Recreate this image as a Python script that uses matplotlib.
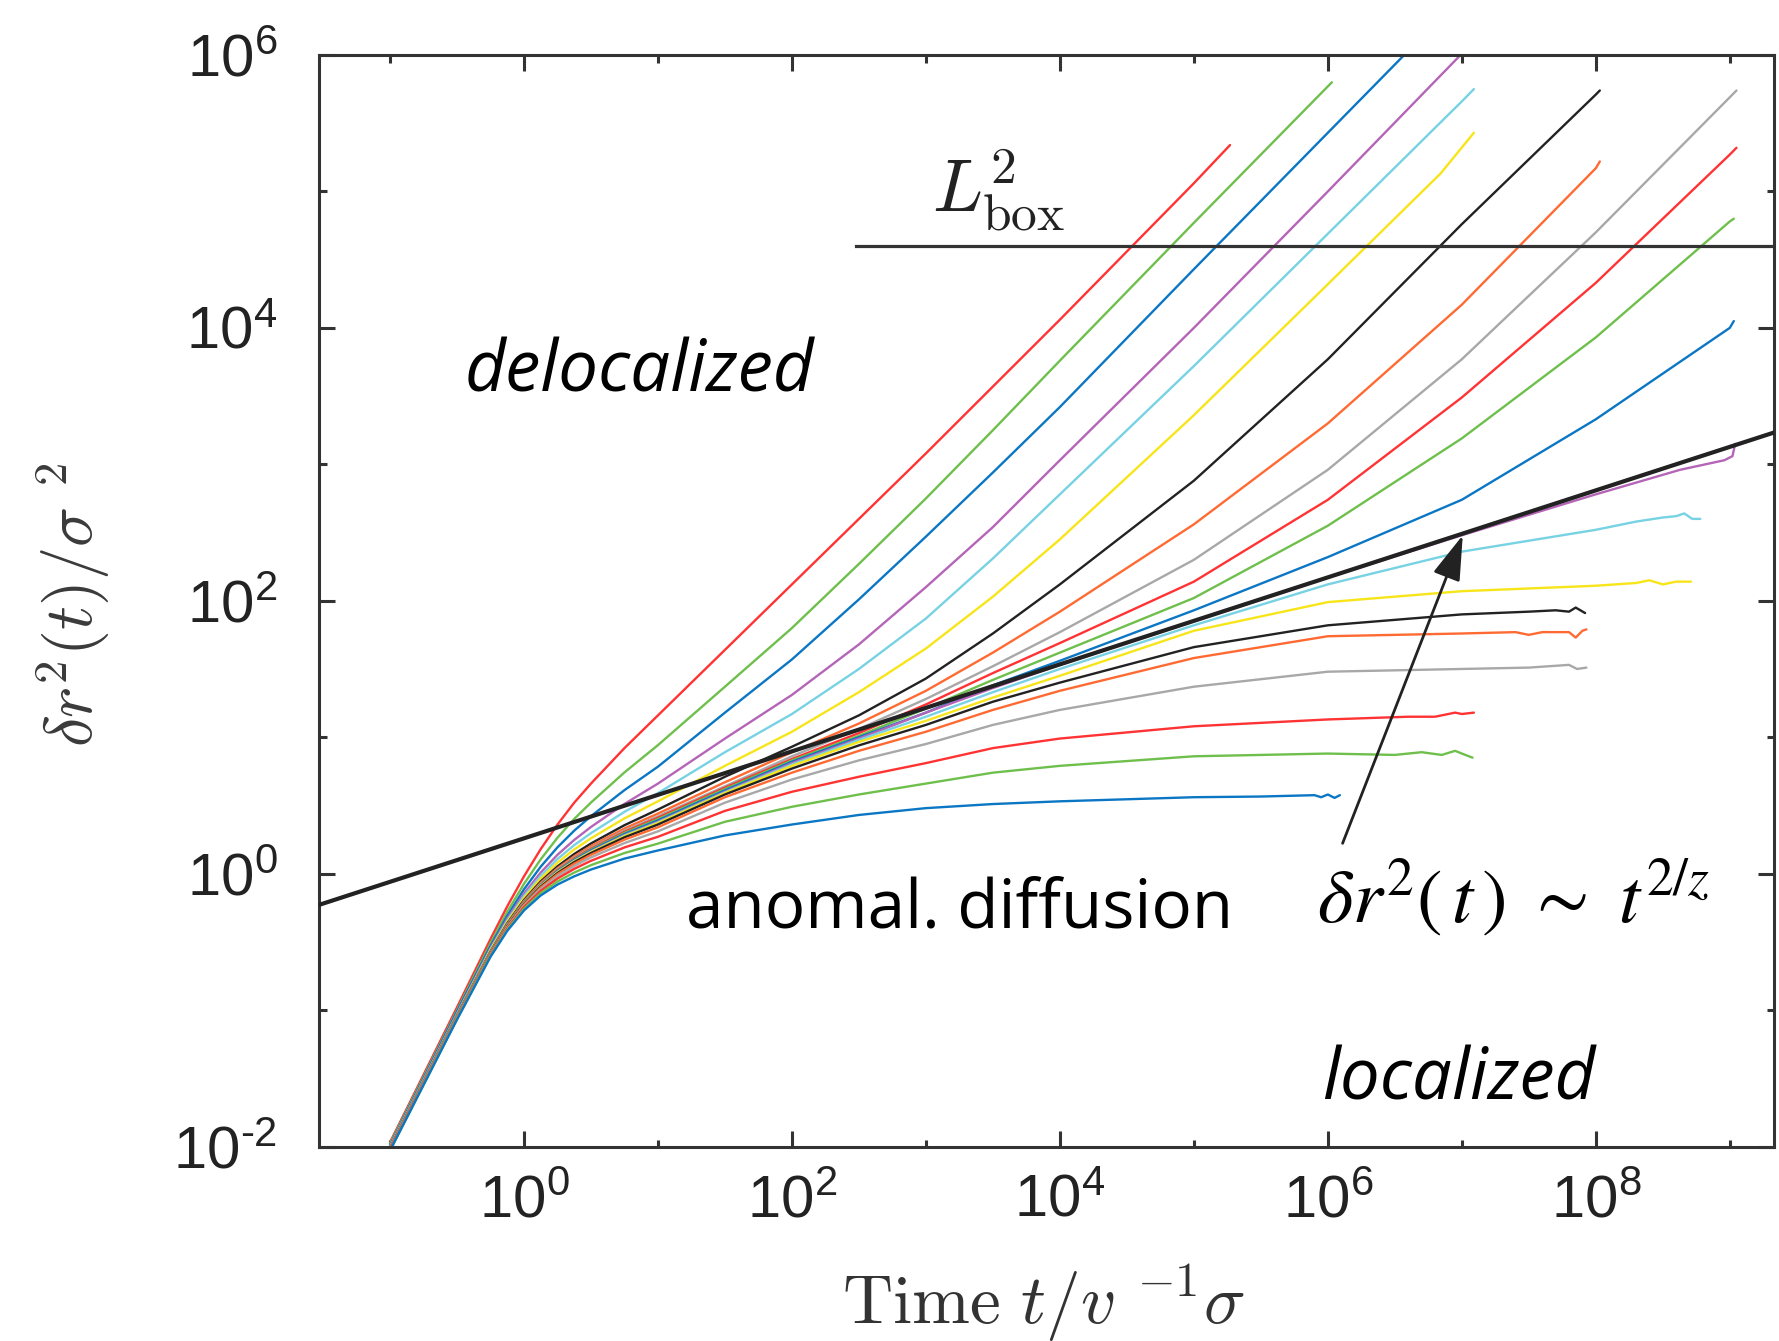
import numpy as np
import matplotlib
matplotlib.use("Agg")
import matplotlib.pyplot as plt
from matplotlib.ticker import FixedLocator, FixedFormatter, NullFormatter

# ─── Style ────────────────────────────────────────────────────────────────────
plt.rcParams.update({
    "mathtext.fontset": "custom",
    "mathtext.rm": "Liberation Sans",
    "mathtext.it": "Liberation Sans:italic",
    "mathtext.bf": "Liberation Sans:bold",
    "font.family": "Liberation Sans",
})

INK = "#222222"
SPINE = "#333333"

# one colour per curve, from most delocalized (top) to most localized (bottom)
CURVE_COLORS = [
    "#ff3333", "#6fbf4c", "#0b77c4", "#b565b8", "#77d2e3", "#f7e51a", "#222222", "#ff6a33", "#a8a8a8",
    "#ff3333", "#6fbf4c", "#0b77c4", "#b565b8", "#77d2e3", "#f7e51a", "#222222", "#ff6a33", "#a8a8a8",
    "#ff3333", "#6fbf4c", "#0b77c4",
]

# ─── Data (log10 of t and of the mean squared displacement) ──────────────────
LOG_T = [-1.0, -0.5, -0.25, -0.125, 0.0, 0.125, 0.25, 0.375, 0.5, 0.75, 1.0,
         1.5, 2.0, 2.5, 3.0, 3.5, 4.0, 5.0, 6.0, 7.0, 8.0, 9.0]

LOG_MSD = [
    [-1.97, -0.98, -0.48, -0.24, -0.02, 0.18, 0.36, 0.52, 0.66, 0.92, 1.16,
     1.64, 2.12, 2.60, 3.08, 3.57, 4.06, 5.06],
    [-1.98, -1.00, -0.51, -0.28, -0.075, 0.105, 0.263, 0.401, 0.521, 0.742, 0.942,
     1.37, 1.80, 2.27, 2.75, 3.25, 3.76, 4.77, 5.77],
    [-1.99, -1.01, -0.53, -0.31, -0.115, 0.051, 0.193, 0.315, 0.421, 0.612, 0.784,
     1.18, 1.57, 2.01, 2.47, 2.94, 3.42, 4.43, 5.43, 6.43],
    [-2.00, -1.025, -0.546, -0.331, -0.146, 0.008, 0.138, 0.247, 0.342, 0.511, 0.66,
     0.99, 1.31, 1.68, 2.10, 2.54, 3.03, 4.00, 5.00, 6.01],
    [-2.00, -1.03, -0.555, -0.344, -0.164, -0.016, 0.107, 0.209, 0.297, 0.453, 0.59,
     0.89, 1.17, 1.50, 1.87, 2.31, 2.78, 3.72, 4.69, 5.66],
    [-2.01, -1.04, -0.563, -0.354, -0.179, -0.036, 0.08, 0.177, 0.259, 0.405, 0.53,
     0.79, 1.04, 1.33, 1.65, 2.03, 2.45, 3.36, 4.32],
    [-2.01, -1.04, -0.571, -0.365, -0.194, -0.057, 0.053, 0.144, 0.221, 0.355, 0.47,
     0.71, 0.93, 1.16, 1.43, 1.76, 2.12, 2.88, 3.77, 4.76, 5.71],
    [-2.01, -1.045, -0.575, -0.371, -0.202, -0.067, 0.04, 0.127, 0.202, 0.331, 0.44,
     0.67, 0.89, 1.10, 1.34, 1.62, 1.92, 2.56, 3.30, 4.17, 5.17],
    [-2.02, -1.047, -0.577, -0.374, -0.207, -0.074, 0.031, 0.117, 0.189, 0.315, 0.42,
     0.64, 0.86, 1.06, 1.28, 1.52, 1.77, 2.30, 2.96, 3.77, 4.70, 5.69],
    [-2.02, -1.048, -0.579, -0.376, -0.21, -0.078, 0.026, 0.111, 0.182, 0.306, 0.41,
     0.63, 0.84, 1.03, 1.24, 1.47, 1.69, 2.14, 2.74, 3.49, 4.33, 5.27],
    [-2.02, -1.049, -0.58, -0.378, -0.212, -0.081, 0.022, 0.105, 0.176, 0.298, 0.40,
     0.62, 0.83, 1.01, 1.21, 1.42, 1.62, 2.02, 2.55, 3.19, 3.93, 4.78],
    [-2.02, -1.05, -0.581, -0.38, -0.215, -0.085, 0.018, 0.10, 0.17, 0.29, 0.39,
     0.61, 0.82, 1.00, 1.18, 1.38, 1.56, 1.93, 2.32, 2.74, 3.33, 4.00],
    [-2.02, -1.051, -0.582, -0.382, -0.217, -0.088, 0.013, 0.094, 0.164, 0.282, 0.38,
     0.60, 0.81, 0.99, 1.18, 1.36, 1.53, 1.85, 2.17, 2.48, 2.78],
    [-2.02, -1.051, -0.583, -0.383, -0.218, -0.09, 0.011, 0.092, 0.16, 0.278, 0.375,
     0.595, 0.80, 0.98, 1.15, 1.33, 1.50, 1.82, 2.12, 2.36, 2.52],
    [-2.02, -1.052, -0.584, -0.384, -0.22, -0.091, 0.009, 0.089, 0.157, 0.274, 0.37,
     0.59, 0.79, 0.965, 1.12, 1.29, 1.45, 1.78, 1.99, 2.07, 2.11],
    [-2.02, -1.053, -0.585, -0.385, -0.222, -0.095, 0.004, 0.084, 0.151, 0.266, 0.36,
     0.58, 0.77, 0.94, 1.09, 1.26, 1.40, 1.66, 1.82, 1.90],
    [-2.02, -1.055, -0.588, -0.389, -0.227, -0.102, -0.004, 0.073, 0.138, 0.249, 0.34,
     0.56, 0.74, 0.90, 1.04, 1.20, 1.34, 1.58, 1.74, 1.76],
    [-2.02, -1.057, -0.592, -0.395, -0.235, -0.112, -0.018, 0.056, 0.119, 0.224, 0.31,
     0.52, 0.69, 0.83, 0.95, 1.09, 1.20, 1.37, 1.48, 1.50],
    [-2.02, -1.061, -0.597, -0.402, -0.245, -0.126, -0.036, 0.035, 0.094, 0.192, 0.27,
     0.46, 0.60, 0.71, 0.81, 0.92, 0.99, 1.08, 1.13],
    [-2.03, -1.065, -0.603, -0.411, -0.257, -0.143, -0.058, 0.008, 0.062, 0.151, 0.22,
     0.38, 0.49, 0.58, 0.66, 0.74, 0.79, 0.86, 0.88],
    [-2.03, -1.07, -0.61, -0.42, -0.27, -0.16, -0.08, -0.02, 0.03, 0.11, 0.17,
     0.28, 0.36, 0.43, 0.48, 0.51, 0.53, 0.56],
]

# last samples of each run past the shared time grid (the noisy ends of the long runs)
TAIL_LOG_T = [
    [5.27], [6.03], [], [], [7.09], [6.84, 7.09], [8.03], [8.03], [9.05], [9.05], [9.03], [9.03],
    [8.63, 8.96, 9.02, 9.04],
    [8.30, 8.50, 8.60, 8.66, 8.72, 8.78],
    [8.30, 8.40, 8.50, 8.60, 8.71],
    [7.50, 7.70, 7.80, 7.85, 7.92],
    [7.40, 7.50, 7.60, 7.80, 7.85, 7.90, 7.93],
    [7.50, 7.80, 7.86, 7.93],
    [6.60, 6.80, 6.95, 7.00, 7.09],
    [6.50, 6.70, 6.85, 6.95, 7.00, 7.08],
    [5.50, 5.90, 5.95, 6.00, 6.05, 6.09],
]
TAIL_LOG_MSD = [
    [5.34], [5.80], [], [], [5.75], [5.13, 5.43], [5.74], [5.22], [5.74], [5.32], [4.80], [4.05],
    [2.96, 3.03, 3.06, 3.15],
    [2.58, 2.61, 2.62, 2.64, 2.60, 2.60],
    [2.13, 2.15, 2.12, 2.14, 2.14],
    [1.92, 1.93, 1.92, 1.95, 1.91],
    [1.77, 1.75, 1.77, 1.77, 1.73, 1.78, 1.79],
    [1.51, 1.53, 1.50, 1.51],
    [1.15, 1.15, 1.18, 1.17, 1.18],
    [0.87, 0.89, 0.87, 0.90, 0.88, 0.85],
    [0.565, 0.575, 0.56, 0.58, 0.555, 0.575],
]

# anomalous diffusion guide line and box size
POWER_T = [10 ** -1.53, 10 ** 9.33]
POWER_MSD = [0.59, 1710.0]
LBOX_T = [300.0, 10 ** 9.33]
LBOX_MSD = [4.0e4, 4.0e4]

X_LIM = (10 ** -1.53, 10 ** 9.33)
Y_LIM = (1e-2, 1e6)
X_MAJOR = [1e0, 1e2, 1e4, 1e6, 1e8]
X_MINOR = [1e-1, 1e1, 1e3, 1e5, 1e7, 1e9]
X_LABELS = ["0", "2", "4", "6", "8"]
Y_MAJOR = [1e-2, 1e0, 1e2, 1e4, 1e6]
Y_MINOR = [1e-1, 1e1, 1e3, 1e5]
Y_LABELS = ["\u20102", "0", "2", "4", "6"]

ARROW_TIP = (10 ** 7.007, 10 ** 2.48)
ARROW_TAIL = (10 ** 6.11, 10 ** 0.222)

W, H = 1779, 1341
fig = plt.figure(figsize=(W / 100, H / 100), dpi=100)
ax = fig.add_axes([319 / W, 1 - 1146.5 / H, (1774 - 319) / W, (1146.5 - 55) / H])

for row, tt, tm, color in zip(LOG_MSD, TAIL_LOG_T, TAIL_LOG_MSD, CURVE_COLORS):
    lt = np.array(LOG_T[:len(row)] + tt)
    lm = np.array(row + tm)
    ax.plot(10 ** lt, 10 ** lm, color=color, lw=1.7, solid_capstyle="round",
            solid_joinstyle="round", zorder=2)

ax.plot(POWER_T, POWER_MSD, color=INK, lw=3.0, zorder=3)
ax.plot(LBOX_T, LBOX_MSD, color=SPINE, lw=2.3, zorder=3)

ax.annotate("", xy=ARROW_TIP, xytext=ARROW_TAIL,
            arrowprops=dict(arrowstyle="-|>,head_length=0.8,head_width=0.25",
                            mutation_scale=35, lw=2.0, color=INK, shrinkA=0, shrinkB=0),
            zorder=4)

ax.set_xscale("log")
ax.set_yscale("log")
ax.set_xlim(*X_LIM)
ax.set_ylim(*Y_LIM)

ax.xaxis.set_major_locator(FixedLocator(X_MAJOR))
ax.xaxis.set_minor_locator(FixedLocator(X_MINOR))
ax.xaxis.set_major_formatter(FixedFormatter([rf"$\mathregular{{10^{{{s}}}}}$" for s in X_LABELS]))
ax.xaxis.set_minor_formatter(NullFormatter())
ax.yaxis.set_major_locator(FixedLocator(Y_MAJOR))
ax.yaxis.set_minor_locator(FixedLocator(Y_MINOR))
ax.yaxis.set_major_formatter(FixedFormatter([rf"$\mathregular{{10^{{{s}}}}}$" for s in Y_LABELS]))
ax.yaxis.set_minor_formatter(NullFormatter())

ax.tick_params(which="both", direction="in", top=True, right=True, width=2.2, color=SPINE,
               labelsize=43, labelcolor=INK)
ax.tick_params(which="major", length=11.5)
ax.tick_params(which="minor", length=5.4)
ax.tick_params(axis="x", which="major", pad=20)
ax.tick_params(axis="y", which="major", pad=30)
for s in ax.spines.values():
    s.set_color(SPINE)
    s.set_linewidth(2.2)

# axis labels
fig.text(1044 / W, 1 - 1324 / H, r"$\mathrm{Time}\ t/v\ ^{-1}\sigma$", math_fontfamily="cm",
         fontsize=50, color="#333333", ha="center", va="baseline")
fig.text(73 / W, 1 - 605 / H, r"$\delta r^2(t)/\sigma\ ^2$", math_fontfamily="cm",
         fontsize=48, color="#3a3a3a", ha="center", va="center", rotation=90)

# annotations
fig.text(932 / W, 1 - 212 / H, r"$L^2_{\mathrm{box}}$", math_fontfamily="cm",
         fontsize=53, color=INK, ha="left", va="baseline")
fig.text(465 / W, 1 - 391 / H, "delocalized", family="Open Sans", style="italic",
         fontsize=51, color="black", ha="left", va="baseline")
fig.text(686 / W, 1 - 928 / H, "anomal. diffusion", family="Open Sans",
         fontsize=48.5, color="black", ha="left", va="baseline")
fig.text(1322 / W, 1 - 1100 / H, "localized", family="Open Sans", style="italic",
         fontsize=51, color="black", ha="left", va="baseline")
fig.text(1317 / W, 1 - 922 / H, r"$\delta r^2(\,t\,)\ \sim\ t^{2/z}$", math_fontfamily="stix",
         fontsize=55, color="black", ha="left", va="baseline")

fig.savefig("out.png", dpi=100)
